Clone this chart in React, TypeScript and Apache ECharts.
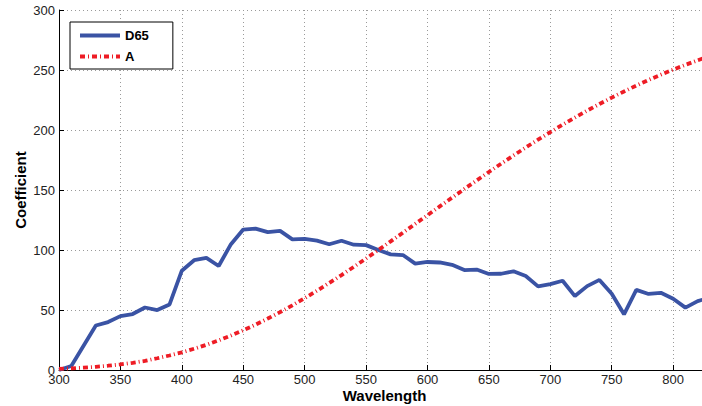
import React, { useEffect, useRef } from "react";
import * as echarts from "echarts";

const wavelengths = [300,310,320,330,340,350,360,370,380,390,400,410,420,430,440,450,460,470,480,490,500,510,520,530,540,550,560,570,580,590,600,610,620,630,640,650,660,670,680,690,700,710,720,730,740,750,760,770,780,790,800,810,820,830];
const d65 = [0.03,3.29,20.24,37.05,39.95,44.91,46.64,52.09,49.98,54.65,82.75,91.49,93.43,86.68,104.87,117.01,117.81,114.86,115.92,108.81,109.35,107.80,104.79,107.69,104.41,104.05,100.00,96.33,95.79,88.69,90.01,89.60,87.70,83.29,83.70,80.03,80.21,82.28,78.28,69.72,71.61,74.35,61.60,69.89,75.09,63.59,46.42,66.81,63.38,64.30,59.45,51.96,57.44,60.31];
const illA = [0.93,1.36,1.93,2.65,3.56,4.67,6.01,7.59,9.80,12.09,14.71,17.68,21.00,24.67,28.70,33.09,37.81,42.87,48.24,53.91,59.86,66.06,72.50,79.13,85.95,92.91,100.00,107.18,114.44,121.73,129.04,136.35,143.62,150.84,157.98,165.03,171.96,178.77,185.43,191.93,198.26,204.41,210.37,216.12,221.67,227.00,232.12,237.01,241.68,246.12,250.33,254.32,258.08,261.62];
const seriesNames = ["D65", "A"];
const xTicks = { min: 300, max: 830, interval: 50 };
const yTicks = { min: 0, max: 300, interval: 50 };

const FONT = "Liberation Sans, Arial, Helvetica, sans-serif";

export default function App() {
  const ref = useRef<HTMLDivElement>(null);
  useEffect(() => {
    if (!ref.current) return;
    const chart = echarts.init(ref.current, undefined, { renderer: "svg" });
    const gridLine = { show: true, lineStyle: { color: "#9a9a9a", type: [1, 3] as any, width: 1 } };
    chart.setOption({
      animation: false,
      backgroundColor: "#fff",
      grid: { left: 59, top: 10, bottom: 36, right: -8, containLabel: false, outerBoundsMode: "none" },
      legend: {
        orient: "vertical",
        left: 70,
        top: 22,
        data: seriesNames,
        backgroundColor: "#fff",
        borderColor: "#000",
        borderWidth: 1,
        padding: [7, 24, 6, 8],
        itemGap: 8,
        itemWidth: 40,
        itemHeight: 14,
        itemStyle: { opacity: 0 },
        lineStyle: { width: 4 },
        textStyle: { fontFamily: FONT, fontWeight: "bold", fontSize: 13, color: "#000" },
      },
      xAxis: {
        type: "value",
        min: xTicks.min,
        max: xTicks.max,
        interval: xTicks.interval,
        name: "Wavelength",
        nameLocation: "middle",
        nameGap: 18,
        nameMoveOverlap: false,
        nameTextStyle: { fontFamily: FONT, fontWeight: "bold", fontSize: 15, color: "#000" },
        axisLine: { show: true, lineStyle: { color: "#000", width: 1 } },
        axisTick: { show: true, inside: true, length: 5, lineStyle: { color: "#000" } },
        axisLabel: { fontFamily: FONT, fontSize: 13, color: "#222", margin: 3, showMaxLabel: false },
        splitLine: gridLine,
      },
      yAxis: {
        type: "value",
        min: yTicks.min,
        max: yTicks.max,
        interval: yTicks.interval,
        name: "Coefficient",
        nameLocation: "middle",
        nameGap: 31,
        nameMoveOverlap: false,
        nameTextStyle: { fontFamily: FONT, fontWeight: "bold", fontSize: 15, color: "#000" },
        axisLine: { show: true, lineStyle: { color: "#000", width: 1 } },
        axisTick: { show: true, inside: true, length: 5, lineStyle: { color: "#000" } },
        axisLabel: { fontFamily: FONT, fontSize: 13, color: "#222", margin: 4 },
        splitLine: gridLine,
      },
      series: [
        {
          name: seriesNames[0],
          type: "line",
          data: wavelengths.map((w, i) => [w, d65[i]]),
          symbol: "none",
          lineStyle: { color: "#3a53a4", width: 3.8 },
          itemStyle: { color: "#3a53a4" },
          z: 2,
        },
        {
          name: seriesNames[1],
          type: "line",
          data: wavelengths.map((w, i) => [w, illA[i]]),
          symbol: "none",
          lineStyle: { color: "#ee1c25", width: 3.8, type: [5, 3, 1, 3] },
          itemStyle: { color: "#ee1c25" },
          z: 3,
        },
      ],
    });
    return () => chart.dispose();
  }, []);
  return <div ref={ref} style={{ width: 702, height: 406, position: "absolute", left: 0, top: 0 }} />;
}
